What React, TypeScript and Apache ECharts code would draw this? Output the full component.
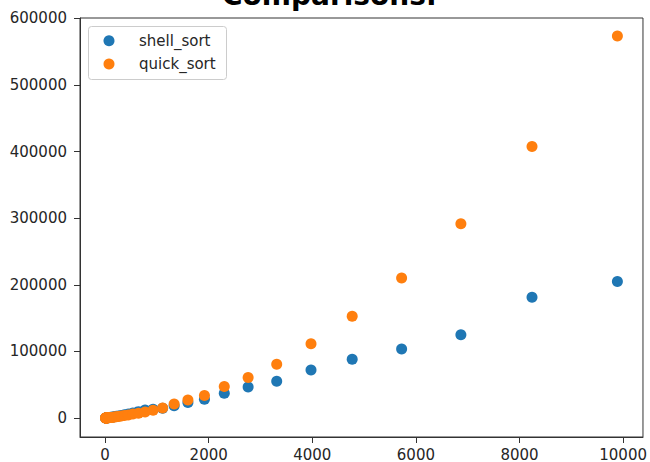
import React, { useEffect, useRef } from "react";
import * as echarts from "echarts";

const sizes = [10, 12, 14, 16, 19, 22, 26, 31, 37, 44, 52, 62, 74, 88, 105, 126, 151, 181, 217, 260, 312, 374, 448, 537, 644, 772, 926, 1111, 1333, 1599, 1918, 2301, 2761, 3313, 3975, 4770, 5724, 6868, 8241, 9889];
const shellSort = [22, 30, 40, 50, 65, 85, 110, 150, 190, 250, 320, 420, 540, 700, 900, 1150, 1500, 1900, 2400, 3000, 3800, 4800, 6000, 7600, 9500, 12000, 13000, 14500, 18200, 23300, 28200, 37200, 46600, 55100, 72000, 88000, 103400, 124900, 181100, 205000];
const quickSort = [18, 24, 30, 38, 48, 62, 80, 105, 140, 180, 230, 300, 390, 500, 640, 820, 1050, 1350, 1700, 2200, 2800, 3600, 4600, 5800, 7200, 9000, 11500, 14800, 20800, 26800, 33800, 47200, 60700, 80600, 111500, 152700, 210100, 291700, 407800, 573700];
const xTicks = [0, 2000, 4000, 6000, 8000, 10000];
const yTicks = [0, 100000, 200000, 300000, 400000, 500000, 600000];
const seriesNames = ["shell_sort", "quick_sort"];
const colors = ["#1f77b4", "#ff7f0e"];

export default function App() {
  const ref = useRef<HTMLDivElement>(null);
  useEffect(() => {
    if (!ref.current) return;
    const chart = echarts.init(ref.current, null, { renderer: "svg" });
    const font = "DejaVu Sans";
    const axisCommon = {
      axisLine: { show: true, onZero: false, lineStyle: { color: "#333", width: 1 } },
      splitLine: { show: false },
    };
    const legendItems = seriesNames.map((name, i) => [
      {
        type: "circle",
        shape: { cx: 109, cy: 40.7 + i * 23.3, r: 5.5 },
        style: { fill: colors[i] },
        z: 6,
      },
      {
        type: "text",
        x: 139,
        y: 40.7 + i * 23.3,
        style: { text: name, fontFamily: font, fontSize: 15, fill: "#262626", verticalAlign: "middle", align: "left" },
        z: 6,
      },
    ]).flat();
    chart.setOption({
      animation: false,
      backgroundColor: "#fff",
      grid: { left: 80, right: 6, top: 18, bottom: 23, show: true, borderColor: "#333", borderWidth: 1, backgroundColor: "transparent" },
      xAxis: {
        type: "value",
        min: -484,
        max: 10383,
        ...axisCommon,
        axisTick: { show: true, length: 6, customValues: xTicks, lineStyle: { color: "#333" } },
        axisLabel: { customValues: xTicks, formatter: (v: number) => String(v), fontFamily: font, fontSize: 15, color: "#262626", margin: 10 },
      },
      yAxis: {
        type: "value",
        min: -28600,
        max: 600600,
        ...axisCommon,
        axisTick: { show: true, length: 6, customValues: yTicks, lineStyle: { color: "#333" } },
        axisLabel: { customValues: yTicks, formatter: (v: number) => String(v), fontFamily: font, fontSize: 15, color: "#262626", margin: 13 },
      },
      graphic: [
        {
          type: "rect",
          shape: { x: 88.5, y: 26.5, width: 138, height: 53, r: 3 },
          style: { fill: "rgba(255,255,255,0.8)", stroke: "#cccccc", lineWidth: 1 },
          z: 5,
        },
        ...legendItems,
        {
          type: "text",
          left: 222,
          top: -19,
          style: { text: "Comparisons:", fontFamily: font, fontWeight: "bold", fontSize: 28, fill: "#000" },
          z: 5,
        },
      ],
      series: [
        {
          name: seriesNames[0],
          type: "scatter",
          symbolSize: 11,
          itemStyle: { color: colors[0], opacity: 1 },
          data: sizes.map((n, i) => [n, shellSort[i]]),
        },
        {
          name: seriesNames[1],
          type: "scatter",
          symbolSize: 11,
          itemStyle: { color: colors[1], opacity: 1 },
          data: sizes.map((n, i) => [n, quickSort[i]]),
        },
      ],
    });
    return () => chart.dispose();
  }, []);
  return <div ref={ref} style={{ width: 650, height: 462, position: "fixed", left: 0, top: 0 }} />;
}
